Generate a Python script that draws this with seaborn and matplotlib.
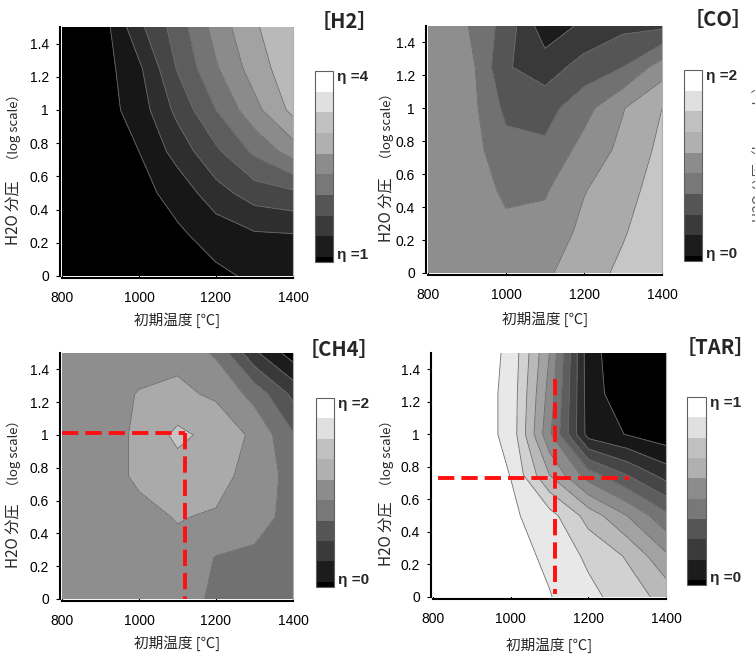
import numpy as np
import matplotlib
matplotlib.use('Agg')
import matplotlib.pyplot as plt
from matplotlib.colors import ListedColormap, BoundaryNorm
from matplotlib.cm import ScalarMappable
import seaborn as sns

# grid of the surface charts
temps = [800, 900, 1000, 1100, 1200, 1300, 1400]
h2o_log = [0, 0.25, 0.5, 0.75, 1.0, 1.25, 1.5]

# eta values, one row per h2o_log value (bottom to top)
h2_eta = [
    [1.12, 1.12, 1.12, 1.15, 1.20, 1.29, 1.37],
    [1.12, 1.12, 1.12, 1.21, 1.35, 1.47, 1.49],
    [1.12, 1.12, 1.17, 1.34, 1.65, 1.87, 1.95],
    [1.12, 1.12, 1.25, 1.60, 1.95, 2.30, 2.62],
    [1.12, 1.12, 1.37, 1.82, 2.25, 2.67, 3.07],
    [1.11, 1.12, 1.45, 2.02, 2.47, 2.87, 3.17],
    [1.10, 1.10, 1.69, 2.12, 2.60, 2.97, 3.20],
]
co_eta = [
    [1.10, 1.10, 1.08, 1.17, 1.30, 1.45, 1.60],
    [1.10, 1.10, 1.04, 1.07, 1.25, 1.38, 1.55],
    [1.10, 1.10, 0.97, 0.98, 1.19, 1.32, 1.50],
    [1.10, 1.10, 0.87, 0.84, 1.07, 1.25, 1.45],
    [1.10, 1.10, 0.75, 0.72, 0.93, 1.19, 1.40],
    [1.10, 1.10, 0.62, 0.50, 0.68, 0.80, 1.10],
    [1.10, 1.01, 0.72, 0.28, 0.44, 0.55, 0.56],
]
ch4_eta = [
    [1.10, 1.12, 1.10, 1.12, 0.95, 0.93, 0.90],
    [1.10, 1.12, 1.12, 1.15, 0.99, 0.97, 0.90],
    [1.10, 1.12, 1.15, 1.21, 1.18, 1.06, 0.95],
    [1.10, 1.12, 1.23, 1.30, 1.27, 1.12, 0.93],
    [1.10, 1.12, 1.23, 1.45, 1.33, 1.16, 0.82],
    [1.10, 1.12, 1.21, 1.24, 1.17, 0.93, 0.55],
    [1.10, 1.12, 1.12, 1.15, 0.97, 0.44, 0.10],
]
tar_eta = [
    [0.983, 0.975, 0.958, 0.921, 0.858, 0.792, 0.722],
    [0.983, 0.975, 0.950, 0.900, 0.817, 0.742, 0.600],
    [0.983, 0.967, 0.933, 0.867, 0.717, 0.583, 0.438],
    [0.983, 0.967, 0.915, 0.667, 0.458, 0.333, 0.217],
    [0.983, 0.967, 0.892, 0.517, 0.133, 0.079, 0.033],
    [0.983, 0.967, 0.892, 0.550, 0.125, 0.025, 0.017],
    [0.983, 0.967, 0.900, 0.583, 0.117, 0.017, 0.017],
]

x_ticks = [800, 1000, 1200, 1400]
y_ticks = [0, 0.2, 0.4, 0.6, 0.8, 1.0, 1.2, 1.4]
y_ticklabels = ['0', '0.2', '0.4', '0.6', '0.8', '1', '1.2', '1.4']

# red reference lines: (temperature, h2o) of the chosen point
ch4_point = (1120, 1.01)
ch4_h_start = 800
tar_point = (1115, 0.73)
tar_h_span = (812, 1305)
tar_v_top = 1.34

legend_colors = ['#000000', '#1c1c1c', '#3a3a3a', '#555555', '#787878',
                 '#8c8c8c', '#b0b0b0', '#c0c0c0', '#e0e0e0', '#ffffff']

W, H = 755, 656


def rect(l, t, r, b):
    return [l / W, 1 - b / H, (r - l) / W, (b - t) / H]


panels = [
    dict(name='［H2］', z=h2_eta, lo=1, hi=4, nb=12, lab=('η =1', 'η =4'),
         ax=rect(62, 27, 293, 276), cb=rect(315, 71, 333, 262),
         title=(378, 22), ylab_x=14, xlab_y=320),
    dict(name='［CO］', z=co_eta, lo=0, hi=2, nb=10, lab=('η =0', 'η =2'),
         ax=rect(428, 26, 662, 273), cb=rect(684, 70, 702, 261),
         title=(753, 20), ylab_x=387, xlab_y=319),
    dict(name='［CH4］', z=ch4_eta, lo=0, hi=2, nb=10, lab=('η =0', 'η =2'),
         ax=rect(62, 353, 293, 599), cb=rect(316, 398, 334, 587),
         title=(379, 350), ylab_x=14, xlab_y=643),
    dict(name='［TAR］', z=tar_eta, lo=0, hi=1, nb=12, lab=('η =0', 'η =1'),
         ax=rect(433, 353, 666, 597), cb=rect(687, 397, 706, 585),
         title=(755, 347), ylab_x=387, xlab_y=645),
]

sns.set_theme(style='white')
plt.rcParams['font.family'] = ['Liberation Sans', 'Noto Sans CJK JP', 'DejaVu Sans']

fig = plt.figure(figsize=(W / 100, H / 100), dpi=100)

for p in panels:
    ax = fig.add_axes(p['ax'])
    levels = np.linspace(p['lo'], p['hi'], p['nb'] + 1)
    shades = [str(k / (p['nb'] - 1)) for k in range(p['nb'])]
    ax.contourf(temps, h2o_log, p['z'], levels=levels, colors=shades)
    ax.contour(temps, h2o_log, p['z'], levels=levels[1:-1],
               colors='#6a6a6a', linewidths=0.6)
    ax.set_xlim(800, 1400)
    ax.set_ylim(0, 1.5)
    ax.set_xticks(x_ticks)
    ax.set_yticks(y_ticks)
    ax.set_yticklabels(y_ticklabels)
    ax.tick_params(axis='x', direction='in', length=3, width=0.8, pad=9,
                   labelsize=10, colors='black')
    ax.tick_params(axis='y', direction='out', length=3, width=0.8, pad=5,
                   labelsize=10, colors='black')
    ax.tick_params(bottom=True, left=True)
    for side in ['left', 'bottom']:
        ax.spines[side].set_color('black')
        ax.spines[side].set_linewidth(1.5)
        ax.spines[side].set_position(('outward', 1.5))
    ax.spines['top'].set_visible(False)
    ax.spines['right'].set_color('#b0b0b0')
    ax.spines['right'].set_linewidth(0.8)

    # axis titles
    cx = (p['ax'][0] + p['ax'][2] / 2)
    fig.text(cx, 1 - p['xlab_y'] / H, '初期温度 [℃]', ha='center', va='center',
             fontsize=10.5, family=['Noto Sans CJK JP'])
    top_px = (1 - p['ax'][1] - p['ax'][3]) * H
    bot_px = (1 - p['ax'][1]) * H
    fig.text(p['ylab_x'] / W, 1 - (bot_px - 63) / H, 'H2O 分圧', rotation=90,
             ha='center', va='center', fontsize=11, family=['Noto Sans CJK JP'])
    fig.text(p['ylab_x'] / W, 1 - (top_px + 100) / H, '（log scale）', rotation=90,
             ha='center', va='center', fontsize=9.5, family=['Noto Sans CJK JP'])

    # title
    fig.text(p['title'][0] / W, 1 - p['title'][1] / H, p['name'], ha='right',
             va='center', fontsize=14.5, fontweight='bold', family=['Noto Sans CJK JP'])

    # legend strip
    cax = fig.add_axes(p['cb'])
    span = p['hi'] - p['lo']
    bounds = np.concatenate([[p['lo'] - span / 36], np.linspace(p['lo'], p['hi'], 10)])
    sm = ScalarMappable(norm=BoundaryNorm(bounds, 10), cmap=ListedColormap(legend_colors))
    cb = fig.colorbar(sm, cax=cax, spacing='proportional')
    cb.minorticks_off()
    cb.set_ticks([p['lo'] + span / 60, p['hi'] - span / 40])
    cb.set_ticklabels(list(p['lab']))
    cax.tick_params(which='both', length=0, pad=3, labelsize=11)
    for t in cax.get_yticklabels():
        t.set_fontweight('bold')
    cb.outline.set_edgecolor('#606060')
    cb.outline.set_linewidth(0.8)

    if p['name'] == '［CH4］':
        ax.plot([ch4_h_start, ch4_point[0]], [ch4_point[1], ch4_point[1]],
                color='#ff1010', lw=2.8, dashes=(4.2, 1.8))
        ax.plot([ch4_point[0], ch4_point[0]], [ch4_point[1], 0],
                color='#ff1010', lw=2.8, dashes=(4.2, 1.8))
    if p['name'] == '［TAR］':
        ax.plot(list(tar_h_span), [tar_point[1], tar_point[1]],
                color='#ff1010', lw=2.8, dashes=(4.2, 1.8))
        ax.plot([tar_point[0], tar_point[0]], [tar_v_top, 0.02],
                color='#ff1010', lw=2.8, dashes=(4.2, 1.8))

# label of the neighbouring chart, cut by the right edge as in the source
fig.text(760 / W, 1 - 150 / H, 'H2O 分圧（log scale）', rotation=90, ha='center',
         va='center', fontsize=10, color='#555555', family=['Noto Sans CJK JP'])

fig.savefig('out.png', dpi=100)
